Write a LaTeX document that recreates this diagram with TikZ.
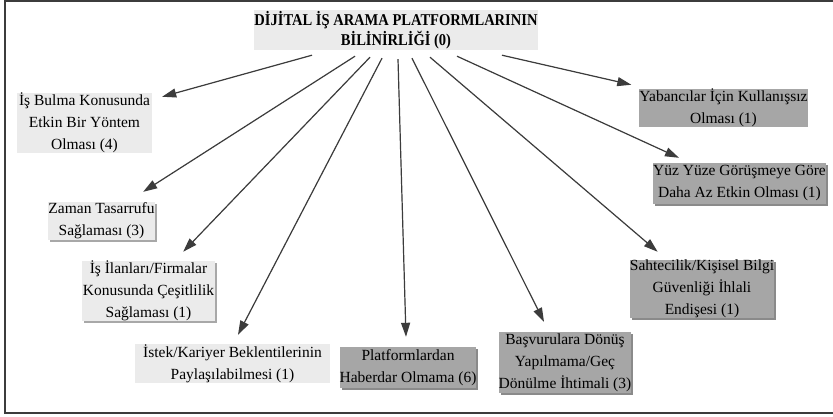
\documentclass[tikz,border=0pt]{standalone}
\usepackage{fontspec}
\setmainfont{Liberation Serif}
\newfontfamily\titlefont[FakeStretch=0.88]{Liberation Serif}
\usetikzlibrary{arrows.meta,shadows}
\definecolor{lightbox}{HTML}{EBEBEB}
\definecolor{darkbox}{HTML}{A6A6A6}
\definecolor{lightshadow}{HTML}{A8A8A8}
\definecolor{darkshadow}{HTML}{8A8A8A}
\definecolor{inkgray}{HTML}{3C3C3C}
\begin{document}
\begin{tikzpicture}[x=1pt,y=-1pt,
  base/.style={inner sep=0pt,align=center,font=\fontsize{15.5}{22}\selectfont,text=black},
  lightnode/.style={base,fill=lightbox},
  darknode/.style={base,fill=darkbox},
  lshad/.style={drop shadow={shadow xshift=2pt,shadow yshift=-2pt,fill=lightshadow,opacity=1}},
  dshad/.style={drop shadow={shadow xshift=2pt,shadow yshift=-2pt,fill=darkshadow,opacity=1}},
  arr/.style={draw=inkgray,line width=1.2pt,-{Triangle[length=14pt,width=9pt]},fill=inkgray}
]
\useasboundingbox (0,0) rectangle (833,416);
\fill[white] (0,0) rectangle (833,416);
\draw[inkgray,line width=2pt] (833,1) -- (5,1) -- (5,413) -- (833,413);

\node[lightnode,minimum width=282pt,minimum height=40pt,font=\titlefont\bfseries\fontsize{16.5}{20}\selectfont] (title) at (396,30) {DİJİTAL İŞ ARAMA PLATFORMLARININ\\BİLİNİRLİĞİ (0)};

\node[lightnode,minimum width=135pt,minimum height=58pt] (n1) at (84.5,123) {İş Bulma Konusunda\\Etkin Bir Yöntem\\Olması (4)};
\node[lightnode,lshad,minimum width=107pt,minimum height=38pt] (n2) at (101.5,221) {Zaman Tasarrufu\\Sağlaması (3)};
\node[lightnode,lshad,minimum width=133pt,minimum height=58pt] (n3) at (148.5,291) {İş İlanları/Firmalar\\Konusunda Çeşitlilik\\Sağlaması (1)};
\node[lightnode,minimum width=195pt,minimum height=39pt] (n4) at (232.5,363.5) {İstek/Kariyer Beklentilerinin\\Paylaşılabilmesi (1)};
\node[darknode,dshad,minimum width=136pt,minimum height=41pt] (n5) at (408,367.5) {Platformlardan\\Haberdar Olmama (6)};
\node[darknode,dshad,minimum width=130pt,minimum height=61pt] (n6) at (565,362.5) {Başvurulara Dönüş\\Yapılmama/Geç\\Dönülme İhtimali (3)};
\node[darknode,dshad,minimum width=144pt,minimum height=58pt] (n7) at (702,289) {Sahtecilik/Kişisel Bilgi\\Güvenliği İhlali\\Endişesi (1)};
\node[darknode,dshad,minimum width=167pt,minimum height=41pt] (n8) at (739.5,183.5) {Yüz Yüze Görüşmeye Göre\\Daha Az Etkin Olması (1)};
\node[darknode,minimum width=167pt,minimum height=38pt] (n9) at (723.5,108) {Yabancılar İçin Kullanışsız\\Olması (1)};

\draw[arr] ([shift={(-84,5)}]title.south) -- ([shift={(10,4)}]n1.north east);
\draw[arr] ([shift={(-41,6)}]title.south) -- ([shift={(-12,-10)}]n2.north east);
\draw[arr] ([shift={(-26,7)}]title.south) -- ([shift={(-32,-9)}]n3.north east);
\draw[arr] ([shift={(-14,8)}]title.south) -- ([shift={(5.5,-9)}]n4.north);
\draw[arr] ([shift={(2,9)}]title.south) -- ([shift={(-2,-10)}]n5.north);
\draw[arr] ([shift={(16,8)}]title.south) -- ([shift={(-21,-10)}]n6.north);
\draw[arr] ([shift={(34,7)}]title.south) -- ([shift={(28,-8)}]n7.north west);
\draw[arr] ([shift={(61,6)}]title.south) -- ([shift={(26,-5)}]n8.north west);
\draw[arr] ([shift={(106,5)}]title.south) -- ([shift={(-8,-4)}]n9.north west);
\end{tikzpicture}
\end{document}
